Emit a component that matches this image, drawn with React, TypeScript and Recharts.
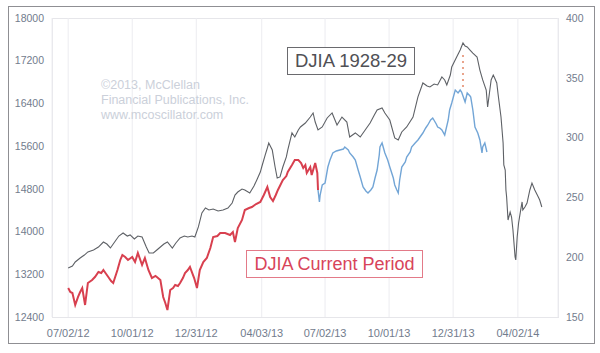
import React from "react";
import { CartesianGrid, Line, LineChart, ReferenceLine, XAxis, YAxis } from "recharts";

// x values are trading days counted from 07/02/12
const tickDays = [0, 91, 182, 275, 365, 456, 547, 639];
const tickLabels = ["07/02/12", "10/01/12", "12/31/12", "04/03/13", "07/02/13", "10/01/13", "12/31/13", "04/02/14"];
const leftTicks = [12400, 13200, 14000, 14800, 15600, 16400, 17200, 18000];
const rightTicks = [150, 200, 250, 300, 350, 400];

// DJIA 1928-29, right axis
const dj1929: [number, number][] = [
  [0, 191.0], [6, 192.6], [10, 196.0], [17, 199.3], [23, 201.8], [28, 204.4], [36, 206.0], [43, 208.5],
  [50, 212.7], [55, 211.0], [60, 207.7], [67, 213.5], [72, 217.7], [78, 220.2], [84, 217.7], [88, 218.6],
  [94, 215.2], [99, 217.7], [105, 216.9], [111, 208.5], [115, 203.5], [121, 203.5], [126, 206.0], [131, 208.5],
  [136, 211.0], [141, 212.7], [148, 207.7], [153, 211.9], [159, 216.1], [165, 217.7], [170, 216.9], [176, 217.7],
  [180, 216.9], [185, 225.3], [190, 237.0], [195, 241.1], [200, 239.5], [206, 240.3], [213, 238.6], [220, 239.5],
  [227, 241.1], [233, 245.3], [237, 252.0], [241, 254.5], [247, 257.0], [251, 256.2], [258, 253.7], [264, 259.5],
  [268, 264.6], [273, 271.2], [275, 275.4], [280, 285.5], [283, 291.3], [285, 295.5], [290, 289.6], [294, 275.4],
  [297, 266.2], [301, 267.1], [305, 275.4], [310, 283.8], [312, 289.6], [318, 303.9], [322, 300.5], [327, 306.4],
  [330, 308.9], [337, 312.2], [344, 317.2], [348, 320.6], [351, 313.0], [355, 306.4], [361, 308.9], [368, 316.4],
  [375, 320.6], [382, 310.5], [389, 317.2], [396, 313.0], [400, 300.5], [408, 303.9], [415, 300.5], [422, 306.4],
  [429, 312.2], [435, 318.9], [439, 323.1], [446, 324.8], [450, 320.6], [457, 314.7], [464, 299.7], [469, 298.0],
  [474, 304.7], [481, 308.9], [490, 317.2], [497, 334.0], [504, 345.7], [510, 343.1], [514, 342.3], [520, 344.8],
  [525, 344.0], [531, 350.7], [535, 348.2], [538, 344.0], [543, 352.3], [545, 359.0], [552, 367.4], [557, 373.2],
  [561, 379.1], [564, 376.6], [567, 375.8], [571, 373.2], [575, 370.7], [581, 367.4], [585, 356.5], [589, 348.2],
  [594, 339.8], [596, 325.6], [601, 348.2], [604, 352.3], [606, 349.8], [609, 345.7], [611, 335.6], [615, 317.2],
  [618, 295.5], [619, 277.1], [621, 272.9], [622, 256.2], [623, 250.3], [625, 231.1], [628, 237.8], [630, 233.6],
  [632, 222.7], [635, 200.2], [636, 197.7], [638, 216.9], [640, 228.6], [643, 239.5], [645, 246.2], [646, 239.5],
  [649, 242.0], [652, 245.3], [656, 256.2], [659, 262.0], [663, 256.2], [668, 250.3], [670, 247.8], [673, 242.0],
];

// DJIA current period, left axis
const djCurrent: [number, number][] = [
  [0, 12943], [3, 12868], [6, 12849], [10, 12625], [14, 12775], [17, 12868], [20, 12943], [24, 12625],
  [28, 13037], [34, 13093], [38, 13149], [43, 13243], [47, 13224], [50, 13280], [54, 13205], [57, 13149],
  [61, 13074], [64, 13037], [70, 13280], [74, 13468], [77, 13561], [81, 13524], [85, 13468], [91, 13524],
  [95, 13430], [99, 13599], [105, 13374], [109, 13505], [114, 13280], [119, 13130], [124, 13168], [126, 13149],
  [131, 13093], [135, 12775], [138, 12662], [141, 12531], [145, 12906], [149, 12943], [152, 12999], [156, 12981],
  [159, 13037], [163, 13130], [166, 13224], [170, 13280], [173, 13337], [179, 13130], [183, 12943], [187, 13280],
  [192, 13430], [197, 13505], [202, 13692], [206, 13898], [212, 13917], [216, 13973], [223, 13973], [230, 13936],
  [234, 13992], [237, 13805], [241, 14067], [247, 14217], [251, 14404], [257, 14441], [261, 14460], [267, 14516],
  [273, 14554], [278, 14685], [283, 14835], [287, 14647], [291, 14573], [295, 14685], [298, 14779], [305, 14966],
  [310, 15040], [312, 15116], [318, 15247], [322, 15340], [327, 15340], [331, 15284], [334, 15191], [337, 15247],
  [339, 15097], [344, 15209], [346, 15059], [351, 15284], [354, 15097], [355, 14779],
];

// DJIA current period, later update, left axis
const djLater: [number, number][] = [
  [355, 14779], [357, 14554], [358, 14685], [361, 14872], [365, 14910], [369, 15209], [372, 15340], [376, 15472],
  [381, 15509], [386, 15528], [391, 15546], [393, 15584], [398, 15528], [400, 15472], [405, 15397], [408, 15340],
  [412, 15153], [415, 15022], [419, 14835], [423, 14760], [426, 14722], [430, 14779], [433, 14835], [436, 15003],
  [439, 15153], [442, 15434], [443, 15584], [446, 15659], [450, 15472], [454, 15340], [457, 15209], [462, 15003],
  [464, 14872], [467, 14779], [469, 14722], [471, 14966], [474, 15209], [479, 15303], [481, 15397], [486, 15490],
  [488, 15584], [493, 15659], [497, 15715], [500, 15771], [504, 15846], [508, 15940], [511, 15996], [515, 16090],
  [518, 16127], [523, 16015], [525, 15958], [528, 15940], [531, 15902], [535, 15809], [540, 16090], [542, 16277],
  [545, 16408], [550, 16651], [554, 16595], [557, 16651], [559, 16614], [564, 16427], [567, 16595], [571, 16539],
  [572, 16520], [575, 16277], [578, 15958], [582, 15846], [585, 15715], [588, 15472], [589, 15584], [592, 15659],
  [595, 15490],
];

// gap between the two peaks
const gapDay = 561;
const gapTop = 17307;
const gapBottom = 16689;

const toRows = (pts: [number, number][]) => pts.map(([day, v]) => ({ day, v }));

const font = "'Liberation Sans', Arial, sans-serif";
const tickStyle = { fill: "#727c8d", fontSize: 10.5, fontFamily: font };

export default function App() {
  return (
    <div style={{ position: "absolute", left: 0, top: 0, width: 600, height: 353, background: "#fff", fontFamily: font }}>
      <div style={{ position: "absolute", left: 8, top: 6, width: 585, height: 336, border: "1.5px solid #8f8f93" }} />
      <div style={{ position: "absolute", left: 52, top: 18, width: 505, height: 298, border: "1px solid #e6e6ea" }} />
      <LineChart width={600} height={353} margin={{ top: 18, right: 0, bottom: 0, left: 0 }} style={{ position: "absolute", left: 0, top: 0 }}>
        <CartesianGrid horizontal={false} stroke="#ececf0" />
        <XAxis
          type="number"
          dataKey="day"
          domain={[-23, 696]}
          ticks={tickDays}
          tickFormatter={(d) => tickLabels[tickDays.indexOf(d)] ?? ""}
          tick={{ ...tickStyle, fontSize: 11 }}
          tickLine={false}
          axisLine={false}
          tickMargin={6}
          height={36}
          allowDataOverflow
        />
        <YAxis yAxisId="left" domain={[12400, 18000]} ticks={leftTicks} tick={tickStyle} tickLine={false} axisLine={false} width={52} />
        <YAxis yAxisId="right" orientation="right" domain={[150, 400]} ticks={rightTicks} tick={tickStyle} tickLine={false} axisLine={false} width={42} />
        <Line yAxisId="right" data={toRows(dj1929)} dataKey="v" stroke="#5e6166" strokeWidth={1.1} dot={false} isAnimationActive={false} />
        <Line yAxisId="left" data={toRows(djCurrent)} dataKey="v" stroke="#d8404f" strokeWidth={2} dot={false} isAnimationActive={false} />
        <Line yAxisId="left" data={toRows(djLater)} dataKey="v" stroke="#72a5d6" strokeWidth={1.4} dot={false} isAnimationActive={false} />
        <ReferenceLine
          yAxisId="left"
          segment={[{ x: gapDay, y: gapTop }, { x: gapDay, y: gapBottom }]}
          stroke="#e9a48c"
          strokeWidth={2}
          strokeDasharray="2 4"
        />
      </LineChart>
      <div style={{ position: "absolute", left: 101, top: 78, color: "#cbd0da", fontSize: 12.5, lineHeight: "15px" }}>
        <div>©2013, McClellan</div>
        <div>Financial Publications, Inc.</div>
        <div>www.mcoscillator.com</div>
      </div>
      <div style={{ position: "absolute", left: 287, top: 47, width: 126, height: 26, border: "1.5px solid #6a6a6e", background: "#fff", color: "#505055", fontSize: 18.5, lineHeight: "26px", textAlign: "center" }}>
        DJIA 1928-29
      </div>
      <div style={{ position: "absolute", left: 246, top: 250, width: 175, height: 26, border: "1.5px solid #e37a88", background: "#fff", color: "#d8445a", fontSize: 18, lineHeight: "26px", textAlign: "center" }}>
        DJIA Current Period
      </div>
    </div>
  );
}
